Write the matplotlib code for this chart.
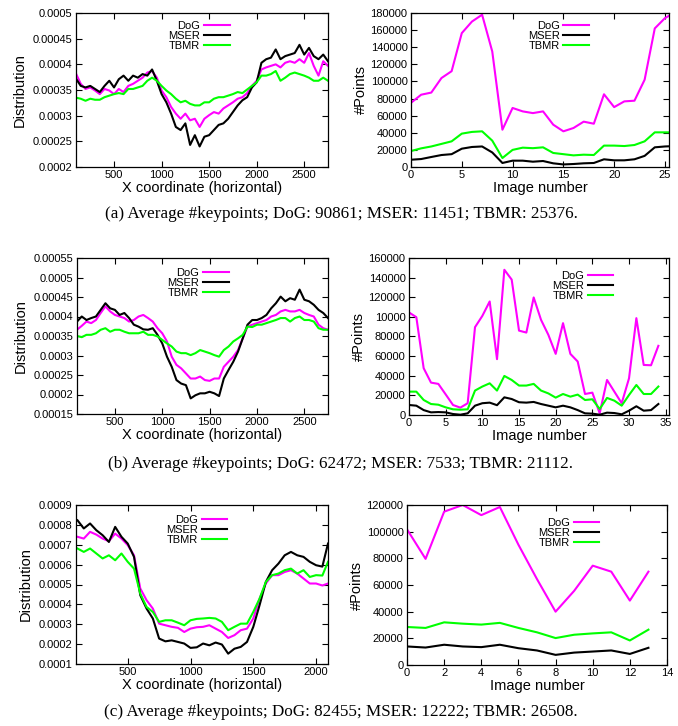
import matplotlib
matplotlib.use("Agg")
import matplotlib.pyplot as plt
import numpy as np

# 色と系列名
names = ["DoG", "MSER", "TBMR"]
colors = ["#ff00ff", "#000000", "#00ff00"]

# (a) 左: x座標ごとの分布 (単位 1e-4)
xa = np.arange(100, 2751, 50)
dist_a_dog = [3.82, 3.62, 3.52, 3.55, 3.49, 3.42, 3.52, 3.49, 3.42, 3.52,
              3.46, 3.58, 3.62, 3.68, 3.74, 3.84, 3.87, 3.74, 3.49, 3.36,
              3.17, 3.04, 2.94, 3.04, 2.91, 2.94, 2.78, 2.94, 3.01, 3.07,
              3.04, 3.14, 3.20, 3.26, 3.33, 3.36, 3.44, 3.58, 3.68, 3.90,
              3.94, 3.97, 4.00, 3.94, 4.03, 4.06, 4.03, 4.10, 4.03, 4.22,
              3.97, 3.78, 4.06, 3.97]
dist_a_mser = [3.72, 3.58, 3.55, 3.58, 3.52, 3.46, 3.58, 3.68, 3.55, 3.71,
               3.78, 3.68, 3.78, 3.74, 3.81, 3.78, 3.90, 3.68, 3.42, 3.26,
               3.04, 2.78, 2.72, 2.85, 2.43, 2.62, 2.40, 2.59, 2.62, 2.72,
               2.82, 2.85, 2.94, 3.07, 3.20, 3.30, 3.36, 3.55, 3.65, 4.03,
               4.10, 4.13, 4.29, 4.10, 4.16, 4.19, 4.22, 4.38, 4.19, 4.32,
               4.16, 4.10, 4.19, 4.06]
dist_a_tbmr = [3.35, 3.33, 3.29, 3.33, 3.31, 3.31, 3.36, 3.39, 3.42, 3.44,
               3.42, 3.52, 3.52, 3.55, 3.58, 3.68, 3.74, 3.68, 3.58, 3.49,
               3.42, 3.33, 3.26, 3.29, 3.23, 3.20, 3.20, 3.26, 3.26, 3.33,
               3.36, 3.36, 3.39, 3.42, 3.46, 3.44, 3.51, 3.58, 3.65, 3.78,
               3.78, 3.81, 3.87, 3.68, 3.74, 3.81, 3.84, 3.81, 3.78, 3.74,
               3.68, 3.68, 3.74, 3.68]

# (b) 左
xb = np.arange(100, 2751, 50)
dist_b_dog = [3.66, 3.76, 3.87, 3.83, 3.91, 4.09, 4.26, 4.13, 4.04, 4.00,
              3.96, 3.87, 3.91, 4.00, 4.04, 3.96, 3.87, 3.70, 3.57, 3.36,
              2.97, 2.76, 2.67, 2.54, 2.41, 2.41, 2.46, 2.37, 2.35, 2.41,
              2.41, 2.71, 2.84, 2.97, 3.14, 3.44, 3.74, 3.79, 3.83, 3.87,
              3.91, 4.00, 4.04, 4.13, 4.17, 4.13, 4.13, 4.17, 4.09, 4.04,
              4.00, 3.79, 3.70, 3.66]
dist_b_mser = [3.87, 4.00, 3.91, 3.96, 4.00, 4.17, 4.34, 4.21, 4.17, 4.04,
               4.09, 3.96, 3.79, 3.74, 3.67, 3.66, 3.70, 3.53, 3.31, 2.97,
               2.71, 2.37, 2.28, 2.24, 1.90, 1.98, 2.03, 2.03, 2.07, 2.03,
               1.96, 2.41, 2.63, 2.84, 3.10, 3.44, 3.79, 3.91, 3.91, 3.96,
               4.04, 4.21, 4.34, 4.51, 4.39, 4.47, 4.43, 4.69, 4.43, 4.39,
               4.30, 4.17, 4.09, 3.96]
dist_b_tbmr = [3.50, 3.47, 3.53, 3.53, 3.57, 3.66, 3.70, 3.61, 3.66, 3.66,
               3.61, 3.57, 3.57, 3.57, 3.61, 3.53, 3.53, 3.49, 3.40, 3.31,
               3.23, 3.10, 3.06, 3.06, 3.01, 3.06, 3.14, 3.10, 3.06, 3.01,
               2.97, 3.14, 3.23, 3.36, 3.44, 3.53, 3.74, 3.73, 3.79, 3.79,
               3.83, 3.87, 3.91, 3.96, 3.96, 3.87, 3.96, 4.00, 3.91, 3.91,
               3.87, 3.70, 3.66, 3.66]

# (c) 左
xc = np.append(np.arange(100, 2051, 50), 2095)
dist_c_dog = [7.40, 7.31, 7.65, 7.51, 7.31, 7.18, 7.56, 7.31, 6.98, 6.47,
              4.80, 4.21, 3.79, 3.03, 2.95, 2.87, 2.82, 2.61, 2.78, 2.85,
              2.87, 2.95, 2.78, 2.61, 2.31, 2.45, 2.70, 2.78, 3.29, 4.29,
              5.05, 5.47, 5.47, 5.63, 5.72, 5.55, 5.30, 5.05, 5.05, 4.95,
              5.05]
dist_c_mser = [8.23, 7.82, 8.07, 7.73, 7.48, 7.14, 7.90, 7.40, 7.06, 6.39,
               4.46, 3.79, 3.29, 2.28, 2.14, 2.19, 2.11, 2.03, 1.81, 1.84,
               2.03, 1.94, 2.08, 1.98, 1.52, 1.77, 1.86, 2.11, 2.87, 3.96,
               5.13, 5.72, 6.05, 6.47, 6.64, 6.47, 6.39, 6.14, 5.97, 5.90,
               7.06]
dist_c_tbmr = [6.81, 6.64, 6.81, 6.56, 6.31, 6.47, 6.22, 6.56, 6.14, 5.80,
               4.54, 3.87, 3.62, 3.12, 3.20, 3.20, 3.08, 2.95, 3.20, 3.27,
               3.29, 3.32, 3.29, 3.12, 2.70, 2.87, 3.03, 3.03, 3.62, 4.29,
               5.13, 5.47, 5.55, 5.72, 5.80, 5.55, 5.72, 5.38, 5.47, 5.45,
               6.14]

# (a) 右: 画像ごとの特徴点数
pts_a_dog = [75000, 84500, 87000, 104000, 112000, 156500, 170000, 178000, 135000, 43600,
             69000, 65000, 63000, 65000, 49500, 41700, 45600, 53000, 50600, 85000,
             70000, 76700, 77500, 102000, 162000, 174000, 181000]
pts_a_mser = [8500, 9300, 11700, 14000, 15000, 21400, 23400, 24000, 17000, 4700,
              7400, 7400, 6200, 7000, 4300, 3000, 3500, 4300, 4700, 9000,
              7800, 7800, 9000, 13000, 23000, 24000, 24500]
pts_a_tbmr = [18700, 21800, 24000, 27000, 30000, 39000, 41000, 41700, 30800, 10500,
              20000, 22600, 22000, 23000, 16400, 15000, 13600, 14400, 14000, 25000,
              25000, 24500, 25700, 30000, 40500, 40500, 40500]

# (b) 右
pts_b_dog = [104500, 99700, 47700, 33000, 31700, 21000, 10200, 7500, 12000, 89500,
             101000, 115700, 56900, 148000, 138000, 86000, 84000, 119800, 97000, 81700,
             62300, 93600, 62300, 54500, 21400, 22800, 1700, 35700, 23800, 12000,
             37400, 98700, 51000, 50700, 70500]
pts_b_mser = [10200, 9500, 5000, 2700, 3000, 2700, 1000, 300, 1700, 9500,
              12000, 12600, 10000, 18000, 16300, 13000, 12600, 13300, 11200, 9500,
              7800, 9500, 7800, 5000, 1700, 1400, 300, 2400, 2000, 700,
              4400, 8900, 4400, 5000, 11200]
pts_b_tbmr = [23800, 23800, 15300, 11200, 10500, 7800, 5800, 5400, 5800, 24900,
              29000, 32300, 24900, 39800, 35700, 30000, 30000, 31700, 24900, 22000,
              17700, 21400, 18700, 20800, 15300, 16000, 6100, 17400, 14600, 9500,
              20400, 30600, 21400, 21400, 29000]

# (c) 右
pts_c_dog = [101800, 79600, 115000, 120000, 112400, 118500, 90200, 64400, 40000, 55600,
             74500, 70000, 48300, 70000]
pts_c_mser = [13900, 13100, 15200, 13900, 13400, 15200, 12600, 10900, 7600, 9300,
              10100, 10900, 8300, 12900]
pts_c_tbmr = [28500, 27800, 32000, 31000, 30300, 31600, 27800, 24500, 20200, 22700,
              23700, 24500, 18400, 26500]

captions = [
    "(a) Average #keypoints; DoG: 90861; MSER: 11451; TBMR: 25376.",
    "(b) Average #keypoints; DoG: 62472; MSER: 7533; TBMR: 21112.",
    "(c) Average #keypoints; DoG: 82455; MSER: 12222; TBMR: 26508.",
]

plt.rcParams["font.family"] = ["Liberation Sans", "DejaVu Sans"]

W, H = 678, 726
fig = plt.figure(figsize=(W / 100, H / 100), dpi=100)


def make_ax(x0, y0, x1, y1):
    # ピクセル座標(左上原点)から axes を作る
    return fig.add_axes([x0 / W, 1 - y1 / H, (x1 - x0) / W, (y1 - y0) / H])


def style(ax):
    ax.tick_params(direction="in", top=True, right=True, length=4, width=0.8,
                   labelsize=8, pad=2.5)
    for s in ax.spines.values():
        s.set_linewidth(0.9)


def legend(ax, anchor):
    ax.legend(loc="upper right", bbox_to_anchor=anchor, frameon=False,
              markerfirst=False, fontsize=8, handlelength=2.3,
              handletextpad=0.35, labelspacing=0.0, borderpad=0, borderaxespad=0)


def dist_panel(rect, x, series, xlim, ylim, ystep, xticks, anchor):
    ax = make_ax(*rect)
    for vals, name, c in zip(series, names, colors):
        ax.plot(x, np.array(vals) * 1e-4, color=c, lw=1.5, label=name)
    ax.set_xlim(*xlim)
    ax.set_ylim(*ylim)
    yt = np.arange(ylim[0], ylim[1] + ystep / 2, ystep)
    ax.set_yticks(yt)
    ax.set_yticklabels([f"{v:g}" for v in yt])
    ax.set_xticks(xticks)
    ax.set_xlabel("X coordinate (horizontal)", fontsize=10.5, labelpad=0.5)
    ax.set_ylabel("Distribution", fontsize=10.5, labelpad=4)
    style(ax)
    legend(ax, anchor)
    return ax


def pts_panel(rect, series, xlim, xticks, ymax, yticklabels, anchor):
    ax = make_ax(*rect)
    for vals, name, c in zip(series, names, colors):
        ax.plot(np.arange(len(vals)), vals, color=c, lw=1.5, label=name)
    ax.set_xlim(*xlim)
    ax.set_ylim(0, ymax)
    yt = np.arange(0, ymax + 1, 20000)
    ax.set_yticks(yt)
    if yticklabels is None:
        yticklabels = [str(int(v)) for v in yt]
    ax.set_yticklabels(yticklabels)
    ax.set_xticks(xticks)
    ax.set_xlabel("Image number", fontsize=10.5, labelpad=0.5)
    ax.set_ylabel("#Points", fontsize=10.5, labelpad=2)
    style(ax)
    legend(ax, anchor)
    return ax


# (a)
dist_panel((76, 13, 328, 167), xa, [dist_a_dog, dist_a_mser, dist_a_tbmr],
           (100, 2750), (0.0002, 0.0005), 0.00005, [500, 1000, 1500, 2000, 2500],
           (0.61, 0.95))
pts_panel((411, 13, 669, 167), [pts_a_dog, pts_a_mser, pts_a_tbmr],
          (0, 25.4), [0, 5, 10, 15, 20, 25], 180000, None, (0.69, 0.95))

# (b)
dist_panel((77, 258, 328, 414), xb, [dist_b_dog, dist_b_mser, dist_b_tbmr],
           (100, 2750), (0.00015, 0.00055), 0.00005, [500, 1000, 1500, 2000, 2500],
           (0.605, 0.935))
b_labels = ["0", "20000", "40000", "60000", "80000", "10000", "120000", "140000", "160000"]
pts_panel((409, 258, 669, 415), [pts_b_dog, pts_b_mser, pts_b_tbmr],
          (0, 35.45), [0, 5, 10, 15, 20, 25, 30, 35], 160000, b_labels, (0.785, 0.915))

# (c)
dist_panel((76, 505, 328, 664), xc, [dist_c_dog, dist_c_mser, dist_c_tbmr],
           (88, 2095), (0.0001, 0.0009), 0.0001, [500, 1000, 1500, 2000],
           (0.60, 0.935))
pts_panel((407, 505, 667, 665), [pts_c_dog, pts_c_mser, pts_c_tbmr],
          (0, 14), [0, 2, 4, 6, 8, 10, 12, 14], 120000, None, (0.74, 0.92))

for cap, y in zip(captions, [214, 464, 712]):
    fig.text(341 / W, 1 - y / H, cap, ha="center", va="center",
             fontsize=12.3, family=["Liberation Serif", "DejaVu Serif"])

fig.savefig("out.png", dpi=100)
